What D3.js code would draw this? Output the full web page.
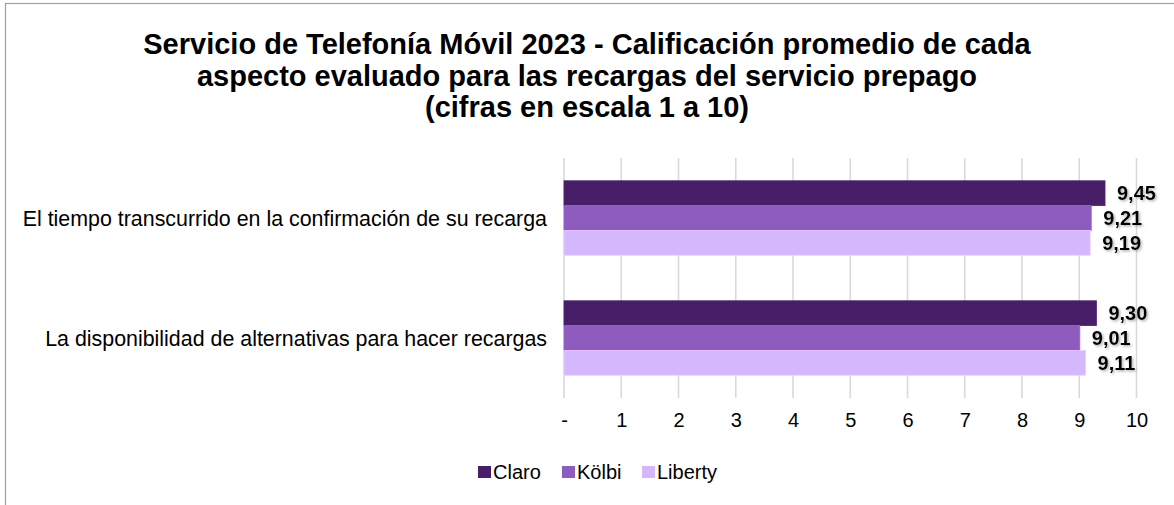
<!DOCTYPE html>
<html>
<head>
<meta charset="utf-8">
<script src="https://cdn.jsdelivr.net/npm/d3@7"></script>
<style>
  html, body { margin: 0; padding: 0; background: #fff; }
  svg { display: block; font-family: Arial, "Liberation Sans", sans-serif; }
</style>
</head>
<body>
<svg id="chart" width="1174" height="505"></svg>
<script>
const titleLines = [
  "Servicio de Telefonía Móvil 2023 - Calificación promedio de cada",
  "aspecto evaluado para las recargas del servicio prepago",
  "(cifras en escala 1 a 10)"
];
const categories = [
  "El tiempo transcurrido en la confirmación de su recarga",
  "La disponibilidad de alternativas para hacer recargas"
];
const seriesNames = ["Claro", "Kölbi", "Liberty"];
const claro = [9.45, 9.30];
const kolbi = [9.21, 9.01];
const liberty = [9.19, 9.11];
const tickValues = [0, 1, 2, 3, 4, 5, 6, 7, 8, 9, 10];
const tickLabels = ["-", "1", "2", "3", "4", "5", "6", "7", "8", "9", "10"];
const colors = ["#481e69", "#8e5bbe", "#d4b7fd"];

const seriesValues = [claro, kolbi, liberty];
const svg = d3.select("#chart");

// drop shadow filter for data labels
const defs = svg.append("defs");
const f = defs.append("filter").attr("id", "shadow")
  .attr("x", "-20%").attr("y", "-40%").attr("width", "150%").attr("height", "180%");
f.append("feDropShadow").attr("dx", 1.5).attr("dy", 1.5).attr("stdDeviation", 1)
  .attr("flood-color", "#777").attr("flood-opacity", 0.55);

// outer border (right/bottom edges lie outside the view)
svg.append("rect").attr("x", 5.5).attr("y", 3.5).attr("width", 1300).attr("height", 700)
  .attr("fill", "none").attr("stroke", "#a0a0a0").attr("stroke-width", 1.2);

// title
svg.append("g").selectAll("text").data(titleLines).join("text")
  .attr("x", 587).attr("y", (d, i) => 54 + i * 31.5)
  .attr("text-anchor", "middle")
  .attr("font-size", 29).attr("font-weight", "bold").attr("fill", "#000")
  .text(d => d);

const x = d3.scaleLinear().domain([0, 10]).range([564, 1136.5]);
const y = d3.scaleBand().domain(categories).range([158, 398])
  .paddingInner(0.38).paddingOuter(0.19);
const ySub = d3.scaleBand().domain(seriesNames).range([0, y.bandwidth()]);

// gridlines
svg.append("g").selectAll("line").data(tickValues).join("line")
  .attr("x1", d => x(d)).attr("x2", d => x(d))
  .attr("y1", 158).attr("y2", 398)
  .attr("stroke", "#d9d9d9").attr("stroke-width", 1.6);

// x axis tick labels
const xAxis = d3.axisBottom(x).tickValues(tickValues)
  .tickFormat((d, i) => tickLabels[i]).tickSize(0).tickPadding(0);
const gx = svg.append("g").attr("transform", "translate(0,413)").call(xAxis);
gx.select(".domain").remove();
gx.selectAll("text").attr("font-size", 20).attr("fill", "#000")
  .attr("font-family", "Arial, 'Liberation Sans', sans-serif");

// category labels
svg.append("g").selectAll("text").data(categories).join("text")
  .attr("x", 547).attr("y", d => y(d) + y.bandwidth() / 2 + 1)
  .attr("dy", "0.35em").attr("text-anchor", "end")
  .attr("font-size", 21.4).attr("fill", "#000")
  .text(d => d);

// bars
const rows = [];
categories.forEach((c, ci) => {
  seriesNames.forEach((s, si) => {
    rows.push({ cat: c, series: s, value: seriesValues[si][ci], color: colors[si] });
  });
});

svg.append("g").selectAll("rect").data(rows).join("rect")
  .attr("x", x(0))
  .attr("y", d => y(d.cat) + ySub(d.series))
  .attr("width", d => x(d.value) - x(0))
  .attr("height", ySub.bandwidth())
  .attr("fill", d => d.color)
  .attr("stroke", d => d3.color(d.color).brighter(0.3))
  .attr("stroke-width", 0.8);

// data labels
const fmt = v => d3.format(".2f")(v).replace(".", ",");
svg.append("g").selectAll("text").data(rows).join("text")
  .attr("x", d => x(d.value) + 12)
  .attr("y", d => y(d.cat) + ySub(d.series) + ySub.bandwidth() / 2)
  .attr("dy", "0.35em")
  .attr("font-size", 20).attr("font-weight", "bold").attr("fill", "#000")
  .attr("filter", "url(#shadow)")
  .text(d => fmt(d.value));

// legend
const legendX = [478, 562, 642];
const lg = svg.append("g").selectAll("g").data(seriesNames).join("g")
  .attr("transform", (d, i) => `translate(${legendX[i]},466)`);
lg.append("rect").attr("width", 13).attr("height", 12)
  .attr("fill", (d, i) => colors[i]);
lg.append("text").attr("x", 15).attr("y", 13)
  .attr("font-size", 20).attr("fill", "#000").text(d => d);
</script>
</body>
</html>
